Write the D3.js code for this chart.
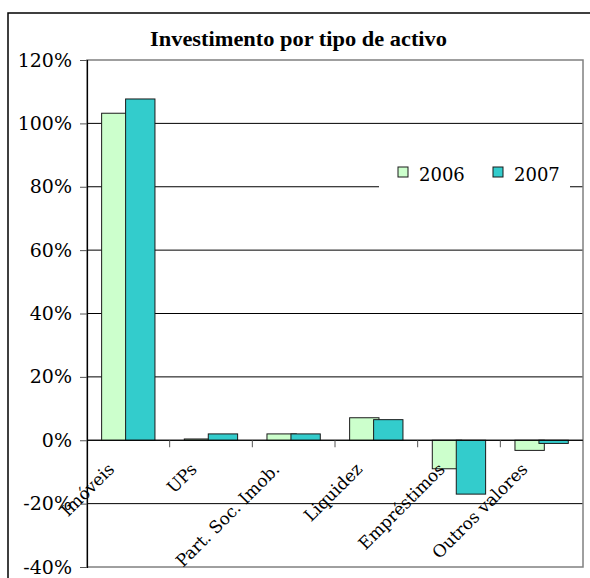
<!DOCTYPE html>
<html>
<head>
<meta charset="utf-8">
<script src="https://cdn.jsdelivr.net/npm/d3@7"></script>
<style>
  html, body { margin: 0; padding: 0; background: #fff; }
  svg { display: block; }
</style>
</head>
<body>
<svg id="chart" width="590" height="578"></svg>
<script>
// Investment breakdown by asset type, share of total (%)
const categories = ["Imóveis", "UPs", "Part. Soc. Imob.", "Liquidez", "Empréstimos", "Outros valores"];
const years = ["2006", "2007"];
const values2006 = [103.2, 0.4, 2.0, 7.1, -9.0, -3.2];
const values2007 = [107.7, 2.0, 2.0, 6.5, -17.0, -1.0];
const yTicks = [-40, -20, 0, 20, 40, 60, 80, 100, 120];
const colors = ["#ccffcc", "#33cccc"];
const title = "Investimento por tipo de activo";

const FONT = "'DejaVu Serif', serif";

const svg = d3.select("#chart");
const plot = { left: 87, right: 583, top: 60, bottom: 567 };

// outer chart frame
svg.append("rect")
  .attr("x", 8).attr("y", 13)
  .attr("width", 600).attr("height", 600)
  .attr("fill", "#fff").attr("stroke", "#000").attr("stroke-width", 1.5);

svg.append("text")
  .attr("x", 298.5).attr("y", 45.5)
  .attr("text-anchor", "middle")
  .style("font-family", "'Liberation Serif', serif")
  .style("font-size", "21px").style("font-weight", "bold")
  .attr("textLength", 297).attr("lengthAdjust", "spacingAndGlyphs")
  .text(title);

const x = d3.scaleBand().domain(categories).range([plot.left, plot.right]);
const y = d3.scaleLinear().domain([-40, 120]).range([plot.bottom, plot.top]);
const bw = x.bandwidth();

// horizontal gridlines
svg.append("g").selectAll("line")
  .data(yTicks.filter(t => t !== -40 && t !== 120))
  .join("line")
  .attr("x1", plot.left).attr("x2", plot.right)
  .attr("y1", d => y(d)).attr("y2", d => y(d))
  .attr("stroke", "#000").attr("stroke-width", 1);

// plot area border
svg.append("rect")
  .attr("x", plot.left).attr("y", plot.top)
  .attr("width", plot.right - plot.left).attr("height", plot.bottom - plot.top)
  .attr("fill", "none").attr("stroke", "#808080").attr("stroke-width", 1.5);

// bars: 2007 slightly overlaps 2006
const barW = bw * 0.355;
const offsets = [-0.323 * bw, -0.033 * bw];
[values2006, values2007].forEach((vals, si) => {
  svg.append("g").selectAll("rect")
    .data(categories.map((c, i) => ({ c, v: vals[i] })))
    .join("rect")
    .attr("x", d => x(d.c) + bw / 2 + offsets[si])
    .attr("width", barW)
    .attr("y", d => y(Math.max(0, d.v)))
    .attr("height", d => Math.abs(y(d.v) - y(0)))
    .attr("fill", colors[si])
    .attr("stroke", "#1a1a1a").attr("stroke-width", 1);
});

// zero line and category ticks
svg.append("line")
  .attr("x1", plot.left).attr("x2", plot.right)
  .attr("y1", y(0)).attr("y2", y(0))
  .attr("stroke", "#000").attr("stroke-width", 1);
svg.append("g").selectAll("line")
  .data(categories.slice(1))
  .join("line")
  .attr("x1", d => x(d)).attr("x2", d => x(d))
  .attr("y1", y(0)).attr("y2", y(0) + 7)
  .attr("stroke", "#555").attr("stroke-width", 1);

// y axis
const yAxis = d3.axisLeft(y)
  .tickValues(yTicks)
  .tickSize(7)
  .tickPadding(8)
  .tickFormat(d => d + "%");
const gy = svg.append("g")
  .attr("transform", `translate(${plot.left},0)`)
  .call(yAxis);
gy.attr("font-family", null).attr("font-size", null);
gy.select(".domain").attr("stroke", "#000").attr("stroke-width", 1.2);
gy.selectAll(".tick line").attr("stroke", "#555");
gy.selectAll(".tick text")
  .style("font-family", FONT)
  .style("font-size", "19px").attr("fill", "#000");

// rotated category labels
svg.append("g").selectAll("text")
  .data(categories)
  .join("text")
  .attr("text-anchor", "end")
  .style("font-family", FONT)
  .style("font-size", "17px")
  .attr("transform", d => `translate(${x(d) + bw / 2 - 13},${y(0) + 30}) rotate(-45)`)
  .text(d => d);

// legend
const lg = svg.append("g");
lg.append("rect")
  .attr("x", 379).attr("y", 155).attr("width", 191).attr("height", 40)
  .attr("fill", "#fff");
const legendX = [398, 493];
years.forEach((yr, i) => {
  lg.append("rect")
    .attr("x", legendX[i]).attr("y", 167).attr("width", 10).attr("height", 10)
    .attr("fill", colors[i]).attr("stroke", "#1a1a1a").attr("stroke-width", 1);
  lg.append("text")
    .attr("x", legendX[i] + 21).attr("y", 181)
    .style("font-family", FONT)
    .style("font-size", "18px")
    .text(yr);
});
</script>
</body>
</html>
